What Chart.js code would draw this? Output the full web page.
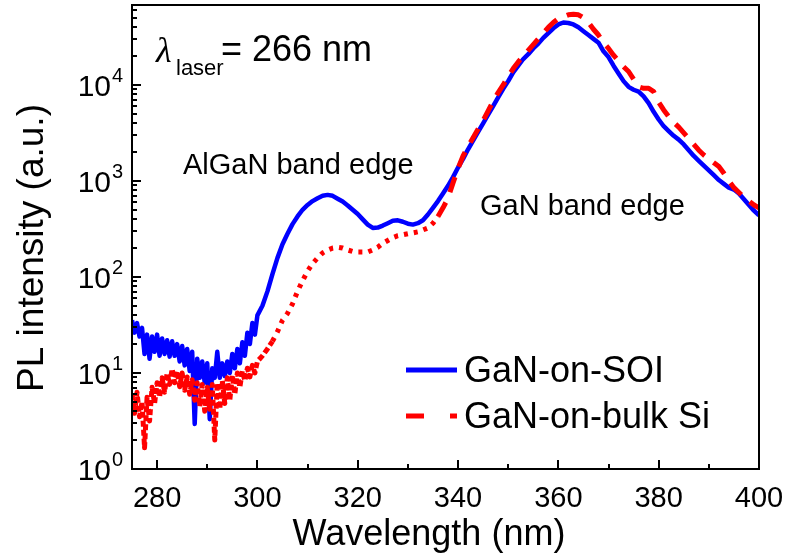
<!DOCTYPE html>
<html>
  <head>
    <title>PL spectra</title>
    <script src="https://cdn.jsdelivr.net/npm/chart.js"></script>
    <style>
      body { margin: 0; background: #fff; }
      canvas { display: block; }
    </style>
  </head>
  <body>
    <canvas id="plChart" width="788" height="557"></canvas>
    <script>
      // wavelength grid (nm): 0.5 nm steps in the noisy part, 1 nm after
      const wavelength = [
        275, 275.5, 276, 276.5, 277, 277.5, 278, 278.5, 279, 279.5,
        280, 280.5, 281, 281.5, 282, 282.5, 283, 283.5, 284, 284.5,
        285, 285.5, 286, 286.5, 287, 287.5, 288, 288.5, 289, 289.5,
        290, 290.5, 291, 291.5, 292, 292.5, 293, 293.5, 294, 294.5,
        295, 295.5, 296, 296.5, 297, 297.5, 298, 298.5, 299, 299.5,
        300,
        301, 302, 303, 304, 305, 306, 307, 308, 309, 310,
        311, 312, 313, 314, 315, 316, 317, 318, 319, 320,
        321, 322, 323, 324, 325, 326, 327, 328, 329, 330,
        331, 332, 333, 334, 335, 336, 337, 338, 339, 340,
        341, 342, 343, 344, 345, 346, 347, 348, 349, 350,
        351, 352, 353, 354, 355, 356, 357, 358, 359, 360,
        361, 362, 363, 364, 365, 366, 367, 368, 369, 370,
        371, 372, 373, 374, 375, 376, 377, 378, 379, 380,
        381, 382, 383, 384, 385, 386, 387, 388, 389, 390,
        391, 392, 393, 394, 395, 396, 397, 398, 399, 400
      ];

      const soi = [
        35.5, 26.3, 33.1, 24.0, 29.5, 15.8, 25.1, 14.1, 24.0, 16.6,
        25.1, 15.1, 22.9, 15.8, 21.9, 14.8, 21.4, 15.1, 20.0, 13.2,
        19.1, 12.0, 17.8, 10.5, 16.6, 2.95, 14.1, 8.9, 13.2, 7.9,
        12.6, 3.3, 11.2, 8.9, 16.6, 8.9, 12.6, 9.3, 13.2, 10.0,
        15.8, 11.2, 17.8, 12.6, 20.9, 15.1, 26.3, 20.0, 33.1, 25.1,
        39.8,
        50.1, 70.8, 107, 158, 219, 282, 355, 427, 501, 562,
        617, 661, 700, 716, 700, 653, 610, 556, 501, 452,
        398, 351, 324, 327, 343, 363, 385, 389, 376, 359,
        351, 363, 389, 447, 525, 617, 741, 891, 1096, 1380,
        1698, 2138, 2630, 3236, 3981, 4898, 6026, 7413, 9120, 10960,
        13490, 15850, 18620, 20890, 23990, 26920, 30900, 34670, 38900, 42660,
        44670, 44160, 42660, 39810, 36310, 33110, 30200, 27540, 22390, 19500,
        15850, 13180, 10960, 9550, 8913, 8511, 7586, 6457, 5248, 4365,
        3715, 3311, 2951, 2692, 2399, 2089, 1820, 1622, 1445, 1288,
        1148, 1023, 933, 851, 813, 741, 646, 562, 490, 437
      ];

      const bulkSi = [
        6.0, 3.8, 6.3, 3.5, 5.0, 1.66, 5.6, 3.16, 7.1, 4.8,
        7.9, 5.6, 8.9, 6.3, 10.0, 7.6, 11.0, 7.9, 10.5, 7.2,
        10.0, 6.6, 9.1, 6.0, 8.5, 5.2, 7.9, 4.5, 7.6, 4.0,
        7.1, 4.2, 7.6, 2.0, 7.9, 4.2, 8.3, 4.8, 8.9, 5.2,
        9.5, 6.0, 10.0, 7.1, 10.5, 8.3, 11.2, 9.1, 12.0, 10.0,
        13.2,
        15.1, 17.8, 21.4, 26.9, 35.5, 41.7, 52.5, 70.8, 91.2, 115,
        138, 158, 178, 191, 200, 204, 200, 191, 184, 182,
        182, 182, 191, 204, 224, 240, 257, 269, 275, 282,
        288, 295, 309, 324, 363, 427, 525, 661, 955, 1349,
        1820, 2291, 2818, 3467, 4266, 5370, 6761, 8318, 10000, 12300,
        14790, 17380, 19950, 22910, 26300, 30200, 34670, 39810, 44670, 48980,
        51290, 53700, 54330, 53700, 50120, 44670, 38020, 33110, 27540, 23990,
        20420, 17780, 15490, 13800, 11480, 9550, 9226, 9226, 8511, 6607,
        5495, 4677, 4074, 3631, 3162, 2754, 2399, 2089, 1862, 1698,
        1549, 1413, 1202, 1000, 851, 759, 676, 617, 562, 525
      ];

      const xTicks = [280, 290, 300, 310, 320, 330, 340, 350, 360, 370, 380, 390, 400];
      const xLabels = [280, 300, 320, 340, 360, 380, 400];
      const yDecades = [1, 10, 100, 1000, 10000];
      const yExponents = ["0", "1", "2", "3", "4"];

      const legendItems = [
        { label: "GaN-on-SOI", color: "#0000ff", dash: [] },
        { label: "GaN-on-bulk Si", color: "#ff0000", dash: [18, 26] }
      ];

      const FONT = "Arial, 'Liberation Sans', sans-serif";

      const overlay = {
        id: "overlay",
        afterDatasetsDraw(chart) {
          const { ctx, chartArea: a, scales: { x, y } } = chart;
          ctx.save();
          ctx.strokeStyle = "#000";
          ctx.fillStyle = "#000";
          ctx.lineWidth = 2;
          ctx.strokeRect(a.left, a.top, a.right - a.left, a.bottom - a.top);

          // x ticks, pointing in
          ctx.beginPath();
          xTicks.forEach(v => {
            const px = Math.round(x.getPixelForValue(v));
            const len = xLabels.includes(v) ? 9 : 5;
            ctx.moveTo(px, a.bottom);
            ctx.lineTo(px, a.bottom - len);
          });
          // y ticks: decades long, 2..9 short
          yDecades.forEach(d => {
            for (let m = 1; m <= 9; m++) {
              const v = d * m;
              if (v > y.max) break;
              const py = Math.round(y.getPixelForValue(v));
              ctx.moveTo(a.left, py);
              ctx.lineTo(a.left + (m === 1 ? 9 : 5), py);
            }
          });
          ctx.stroke();

          // tick labels
          ctx.font = "29px " + FONT;
          ctx.textAlign = "center";
          ctx.textBaseline = "alphabetic";
          xLabels.forEach(v => ctx.fillText(String(v), x.getPixelForValue(v), 507));

          yDecades.forEach((d, i) => {
            const py = y.getPixelForValue(d);
            ctx.font = "30px " + FONT;
            ctx.textAlign = "right";
            ctx.fillText("10", 111, py + 11);
            ctx.font = "20px " + FONT;
            ctx.textAlign = "left";
            ctx.fillText(yExponents[i], 112, py - 3);
          });

          // axis titles
          ctx.font = "36px " + FONT;
          ctx.textAlign = "center";
          ctx.fillText("Wavelength (nm)", 429, 545);
          ctx.save();
          ctx.translate(43, 248);
          ctx.rotate(-Math.PI / 2);
          ctx.font = "37px " + FONT;
          ctx.fillText("PL intensity (a.u.)", 0, 0);
          ctx.restore();

          // annotations
          ctx.textAlign = "left";
          ctx.font = "italic 36px 'Liberation Serif', serif";
          ctx.fillText("\u03bb", 156, 62);
          ctx.font = "22px " + FONT;
          ctx.fillText("laser", 176, 75);
          ctx.font = "36px " + FONT;
          ctx.fillText("= 266 nm", 221, 61);
          ctx.font = "29px " + FONT;
          ctx.fillText("AlGaN band edge", 183, 174);
          ctx.fillText("GaN band edge", 480, 215);

          // legend (one entry per series)
          legendItems.forEach((it, i) => {
            const ly = 370 + i * 46;
            ctx.beginPath();
            ctx.strokeStyle = it.color;
            ctx.lineWidth = 5;
            ctx.setLineDash(it.dash);
            ctx.moveTo(406, ly);
            ctx.lineTo(457, ly);
            ctx.stroke();
            ctx.setLineDash([]);
            ctx.font = "36px " + FONT;
            ctx.fillStyle = "#000";
            ctx.fillText(it.label, 464, ly + 12);
          });
          ctx.restore();
        }
      };

      const toPoints = (vals, from, to) =>
        wavelength.slice(from, to + 1).map((w, i) => ({ x: w, y: vals[from + i] }));

      // bulk Si curve is drawn in three pieces so the dash pattern can change
      const i303 = wavelength.indexOf(303);
      const i336 = wavelength.indexOf(336);
      const last = wavelength.length - 1;
      const redPiece = (from, to, dash) => ({
        label: "GaN-on-bulk Si",
        data: toPoints(bulkSi, from, to),
        borderColor: "#ff0000",
        borderWidth: 5,
        borderDash: dash,
        borderJoinStyle: "round",
        pointRadius: 0,
        order: 1
      });

      new Chart(document.getElementById("plChart"), {
        type: "line",
        data: {
          datasets: [
            {
              label: "GaN-on-SOI",
              data: toPoints(soi, 0, last),
              borderColor: "#0000ff",
              borderWidth: 4.5,
              borderJoinStyle: "round",
              pointRadius: 0,
              order: 2
            },
            redPiece(0, i303, [6, 3]),
            redPiece(i303, i336, [4, 6]),
            redPiece(i336, last, [16, 11])
          ]
        },
        options: {
          responsive: false,
          animation: false,
          devicePixelRatio: 1,
          layout: { padding: { left: 132, top: 5, right: 29, bottom: 88 } },
          plugins: { legend: { display: false }, tooltip: { enabled: false } },
          elements: { line: { tension: 0 } },
          scales: {
            x: { type: "linear", min: 275, max: 400, display: false },
            y: { type: "logarithmic", min: 1, max: 68000, display: false }
          }
        },
        plugins: [overlay]
      });
    </script>
  </body>
</html>
